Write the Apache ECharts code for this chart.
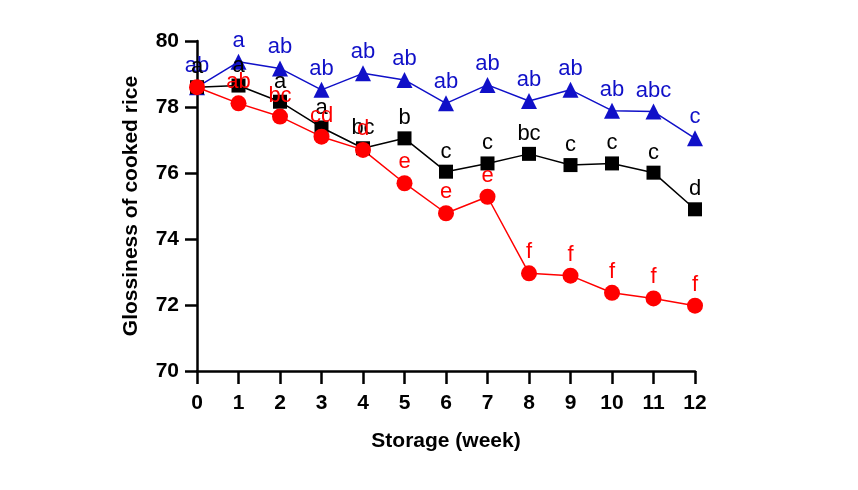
<!DOCTYPE html>
<html>
<head>
<meta charset="utf-8">
<script src="https://cdn.jsdelivr.net/npm/echarts@6/dist/echarts.min.js"></script>
<style>
  html, body { margin: 0; padding: 0; background: #fff; }
  #chart { width: 858px; height: 490px; }
</style>
</head>
<body>
<div id="chart"></div>
<script>
// 数据
var weeks = [0, 1, 2, 3, 4, 5, 6, 7, 8, 9, 10, 11, 12];
var blueVals = [78.6, 79.37, 79.17, 78.52, 79.02, 78.82, 78.11, 78.67, 78.18, 78.52, 77.89, 77.86, 77.05];
var blackVals = [78.6, 78.65, 78.16, 77.38, 76.75, 77.05, 76.04, 76.29, 76.58, 76.24, 76.29, 76.01, 74.9];
var redVals = [78.6, 78.11, 77.71, 77.1, 76.7, 75.69, 74.78, 75.28, 72.96, 72.89, 72.37, 72.2, 71.98];
var blueLetters = ['ab', 'a', 'ab', 'ab', 'ab', 'ab', 'ab', 'ab', 'ab', 'ab', 'ab', 'abc', 'c'];
var blackLetters = ['a', 'a', 'a', 'a', 'bc', 'b', 'c', 'c', 'bc', 'c', 'c', 'c', 'd'];
var redLetters = ['', 'ab', 'bc', 'cd', 'd', 'e', 'e', 'e', 'f', 'f', 'f', 'f', 'f'];
var yTicks = [70, 72, 74, 76, 78, 80];

function pairs(vals) {
  return weeks.map(function (w, i) { return [w, vals[i]]; });
}

var chart = echarts.init(document.getElementById('chart'));

var axisFont = {
  fontFamily: 'Liberation Sans, Arial, sans-serif',
  fontWeight: 'bold',
  fontSize: 21,
  color: '#000'
};

function makeSeries(name, vals, letters, color, symbol, size) {
  return {
    name: name,
    type: 'line',
    data: pairs(vals),
    symbol: symbol,
    symbolSize: size,
    lineStyle: { color: color, width: 1.5 },
    itemStyle: { color: color },
    label: {
      show: true,
      position: 'top',
      distance: 2,
      color: color,
      fontFamily: 'Liberation Sans, Arial, sans-serif',
      fontSize: 22,
      formatter: function (p) { return letters[p.dataIndex]; }
    },
    animation: false
  };
}

var option = {
  backgroundColor: '#fff',
  grid: { left: 197, right: 163, top: 41, bottom: 119 },
  xAxis: {
    type: 'value',
    min: 0,
    max: 12,
    interval: 1,
    name: 'Storage (week)',
    nameLocation: 'middle',
    nameGap: 60,
    nameTextStyle: { fontFamily: 'Liberation Sans, Arial, sans-serif', fontWeight: 'bold', fontSize: 21, color: '#000' },
    axisLine: { lineStyle: { color: '#000', width: 2.5 } },
    axisTick: { length: 13, lineStyle: { color: '#000', width: 2.5 } },
    axisLabel: Object.assign({ margin: 22 }, axisFont),
    splitLine: { show: false }
  },
  yAxis: {
    type: 'value',
    min: yTicks[0],
    max: yTicks[yTicks.length - 1],
    interval: 2,
    name: 'Glossiness of cooked rice',
    nameLocation: 'middle',
    nameGap: 55,
    nameTextStyle: { fontFamily: 'Liberation Sans, Arial, sans-serif', fontWeight: 'bold', fontSize: 21, color: '#000' },
    axisLine: { show: true, lineStyle: { color: '#000', width: 2.5 } },
    axisTick: { show: true, length: 12, lineStyle: { color: '#000', width: 2.5 } },
    axisLabel: Object.assign({ margin: 18 }, axisFont),
    splitLine: { show: false }
  },
  series: [
    makeSeries('blue', blueVals, blueLetters, '#1010c8', 'triangle', 16),
    makeSeries('black', blackVals, blackLetters, '#000', 'rect', 14),
    makeSeries('red', redVals, redLetters, '#ff0000', 'circle', 16)
  ]
};

chart.setOption(option);
</script>
</body>
</html>
